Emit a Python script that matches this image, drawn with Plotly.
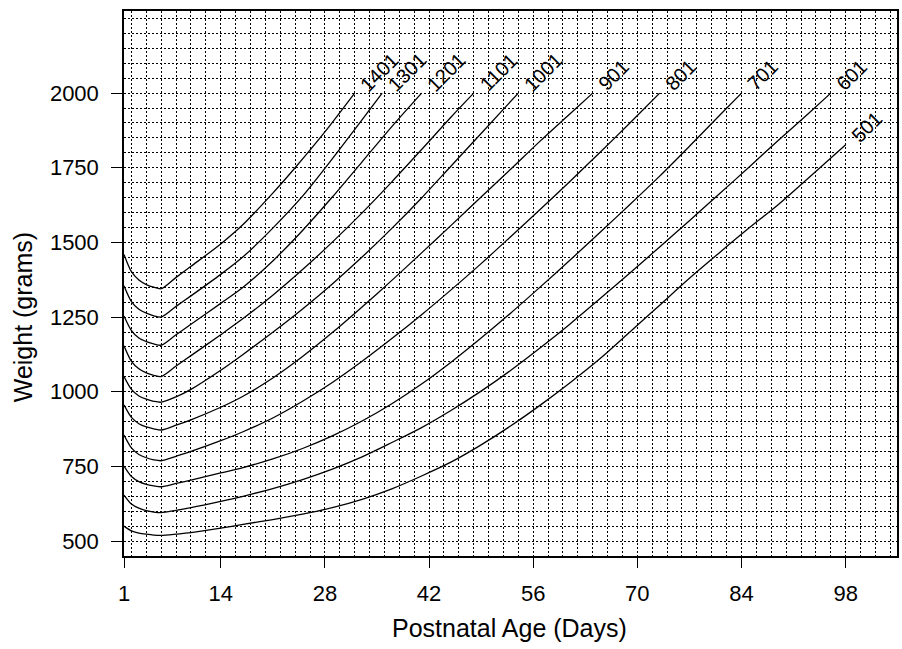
import plotly.graph_objects as go

# Weight curves by birth-weight group: postnatal day -> weight in grams
DAYS_1401 = [1, 2, 3, 4, 5, 6, 8, 10, 14, 17, 21, 24, 28, 32]
WT_1401 = [1460, 1402, 1374, 1359, 1350, 1345, 1383, 1420, 1495, 1560, 1665, 1750, 1870, 2000]

DAYS_1301 = [1, 2, 3, 4, 5, 6, 8, 10, 14, 17, 21, 25, 28, 32, 35.7]
WT_1301 = [1355, 1302, 1276, 1263, 1254, 1250, 1286, 1321, 1393, 1452, 1548, 1655, 1748, 1878, 2000]

DAYS_1201 = [1, 2, 3, 4, 5, 6, 8, 10, 14, 17, 21, 25, 29, 33, 37, 41]
WT_1201 = [1254, 1205, 1180, 1168, 1160, 1156, 1191, 1226, 1296, 1350, 1438, 1540, 1652, 1770, 1888, 2000]

DAYS_1101 = [1, 2, 3, 4, 5, 6, 8, 10, 14, 17, 21, 25, 29, 33, 37, 41, 45, 48]
WT_1101 = [1154, 1102, 1077, 1063, 1055, 1051, 1086, 1121, 1191, 1245, 1323, 1409, 1501, 1599, 1703, 1811, 1921, 2000]

DAYS_1001 = [1, 2, 3, 4, 5, 6, 8, 10, 14, 17, 21, 25, 29, 33, 37, 41, 45, 49, 54]
WT_1001 = [1051, 1008, 986, 975, 968, 965, 983, 1008, 1072, 1125, 1199, 1277, 1361, 1451, 1547, 1649, 1757, 1865, 2000]

DAYS_901 = [1, 2, 3, 4, 5, 6, 8, 10, 14, 17, 21, 25, 29, 33, 37, 41, 45, 49, 53, 57, 61, 64]
WT_901 = [956, 914, 893, 882, 876, 872, 888, 906, 948, 985, 1046, 1118, 1198, 1284, 1373, 1465, 1558, 1652, 1746, 1841, 1932, 2000]

DAYS_801 = [1, 2, 3, 4, 5, 6, 8, 10, 14, 17, 21, 25, 29, 33, 37, 41, 45, 49, 53, 57, 61, 65, 69, 73]
WT_801 = [855, 812, 790, 779, 772, 769, 784, 800, 836, 866, 912, 968, 1031, 1102, 1178, 1258, 1342, 1429, 1520, 1612, 1706, 1802, 1900, 2000]

DAYS_701 = [1, 2, 3, 4, 5, 6, 8, 10, 14, 17, 21, 25, 29, 33, 37, 41, 45, 49, 53, 57, 61, 65, 69, 73, 77, 81, 84]
WT_701 = [751, 716, 699, 690, 685, 682, 693, 704, 728, 746, 775, 810, 852, 902, 960, 1026, 1100, 1180, 1264, 1352, 1442, 1534, 1627, 1722, 1822, 1924, 2000]

DAYS_601 = [1, 2, 3, 4, 5, 6, 8, 10, 14, 17, 21, 25, 29, 33, 37, 41, 45, 49, 53, 57, 61, 65, 69, 73, 77, 81, 85, 89, 93, 96]
WT_601 = [654, 624, 610, 602, 597, 595, 603, 612, 633, 650, 676, 706, 741, 782, 830, 880, 938, 1002, 1072, 1148, 1228, 1312, 1398, 1485, 1573, 1662, 1752, 1843, 1932, 2000]

DAYS_501 = [1, 2, 3, 4, 5, 6, 8, 10, 14, 17, 21, 25, 29, 33, 37, 41, 45, 49, 53, 57, 61, 65, 69, 73, 77, 81, 85, 89, 93, 98]
WT_501 = [550, 534, 527, 523, 520, 519, 523, 528, 543, 556, 572, 590, 612, 640, 675, 718, 765, 822, 886, 956, 1031, 1111, 1200, 1290, 1380, 1465, 1548, 1628, 1716, 1827]

GROUP_LABELS = ["1401", "1301", "1201", "1101", "1001", "901", "801", "701", "601", "501"]
SERIES = [
    (DAYS_1401, WT_1401), (DAYS_1301, WT_1301), (DAYS_1201, WT_1201),
    (DAYS_1101, WT_1101), (DAYS_1001, WT_1001), (DAYS_901, WT_901),
    (DAYS_801, WT_801), (DAYS_701, WT_701), (DAYS_601, WT_601),
    (DAYS_501, WT_501),
]

X_TICKS = [1, 14, 28, 42, 56, 70, 84, 98]
Y_TICKS = [500, 750, 1000, 1250, 1500, 1750, 2000]

FONT = "Liberation Sans, Arial, Helvetica, sans-serif"
GRID = dict(showgrid=True, gridcolor="black", gridwidth=1, griddash="2px,2px")

fig = go.Figure()

for label, (days, wts) in zip(GROUP_LABELS, SERIES):
    fig.add_trace(go.Scatter(
        x=days, y=wts, mode="lines",
        line=dict(color="black", width=1.3, shape="spline", smoothing=0.8),
        showlegend=False, hoverinfo="skip",
    ))
    n = len(label)
    fig.add_annotation(
        x=days[-1], y=wts[-1], text=label, showarrow=False,
        textangle=-45, xanchor="center", yanchor="middle",
        xshift=25 if n == 4 else 21, yshift=21 if n == 4 else 18,
        font=dict(family=FONT, size=20, color="black"),
    )

# graph-paper grid: every 2 days and every 50 g (minor grid only)
fig.update_xaxes(
    range=[1, 104.9], tickmode="array", tickvals=X_TICKS,
    ticktext=[str(v) for v in X_TICKS],
    ticks="outside", ticklen=10, tickwidth=1, tickcolor="black",
    showline=True, linecolor="black", linewidth=1.5, mirror=True,
    zeroline=False, ticklabelstandoff=7, showgrid=False,
    tickfont=dict(family=FONT, size=22, color="black"),
    minor=dict(tickmode="linear", tick0=0, dtick=2, ticks="", **GRID),
)
fig.update_yaxes(
    range=[450, 2275], tickmode="array", tickvals=Y_TICKS,
    ticktext=[str(v) for v in Y_TICKS],
    ticks="outside", ticklen=11, tickwidth=1, tickcolor="black",
    showline=True, linecolor="black", linewidth=1.5, mirror=True,
    zeroline=False, ticklabelstandoff=8, showgrid=False,
    tickfont=dict(family=FONT, size=22, color="black"),
    minor=dict(tickmode="linear", tick0=0, dtick=50, ticks="", **GRID),
)

# axis titles
fig.add_annotation(
    xref="paper", yref="paper", x=(23 - 124) / 775, y=(556 - 317) / 545,
    text="Weight (grams)", textangle=-90, showarrow=False,
    xanchor="center", yanchor="middle",
    font=dict(family=FONT, size=25, color="black"),
)
fig.add_annotation(
    xref="paper", yref="paper", x=(510 - 124) / 775, y=(556 - 628) / 545,
    text="Postnatal Age (Days)", showarrow=False,
    xanchor="center", yanchor="middle",
    font=dict(family=FONT, size=25, color="black"),
)

fig.update_layout(
    width=902, height=649,
    margin=dict(l=124, r=3, t=11, b=93),
    paper_bgcolor="white", plot_bgcolor="white",
)

fig.write_html("out.html")
